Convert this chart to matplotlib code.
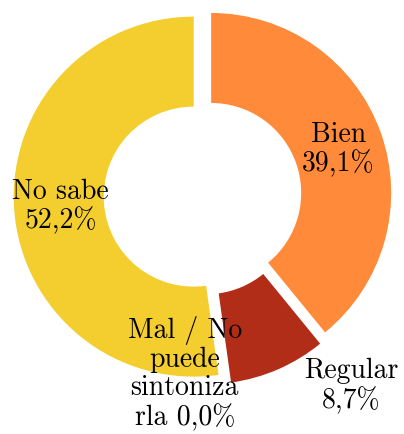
import matplotlib.pyplot as plt

# Survey answers (percent), clockwise from the top.
labels = ['Bien', 'Regular', 'Mal / No\npuede\nsintoniza\nrla', 'No sabe']
values = [39.1, 8.7, 0.0, 52.2]
colors = ['#FF8A3A', '#B22D18', '#888888', '#F4CD2F']

# Label anchor positions in data units (radius = 1).
label_xy = [(0.755, 0.26), (0.825, -1.055), (-0.10, -0.985), (-0.79, -0.06)]

plt.rcParams['font.family'] = ['cmr10', 'DejaVu Serif']
plt.rcParams['axes.formatter.use_mathtext'] = True

fig = plt.figure(figsize=(4.04, 4.34), dpi=100)
ax = fig.add_axes([0, 0, 1, 1])

ax.pie(values, colors=colors, startangle=90, counterclock=False,
       explode=[0.05] * len(values), radius=1.0,
       wedgeprops=dict(width=0.5, linewidth=0))

for name, val, (x, y) in zip(labels, values, label_xy):
    text = f"{name}\n{val:.1f}%".replace('.', ',')
    if name.endswith('rla'):
        text = f"{name} {val:.1f}%".replace('.', ',')
    ax.text(x, y, text, ha='center', va='center', fontsize=20,
            linespacing=1.1, color='black')

ax.set_aspect('equal')
ax.set_xlim(-202.7 / 180, (404 - 202.7) / 180)
ax.set_ylim(-(434 - 196) / 180, 196 / 180)
ax.axis('off')

plt.savefig('out.png', dpi=100)
